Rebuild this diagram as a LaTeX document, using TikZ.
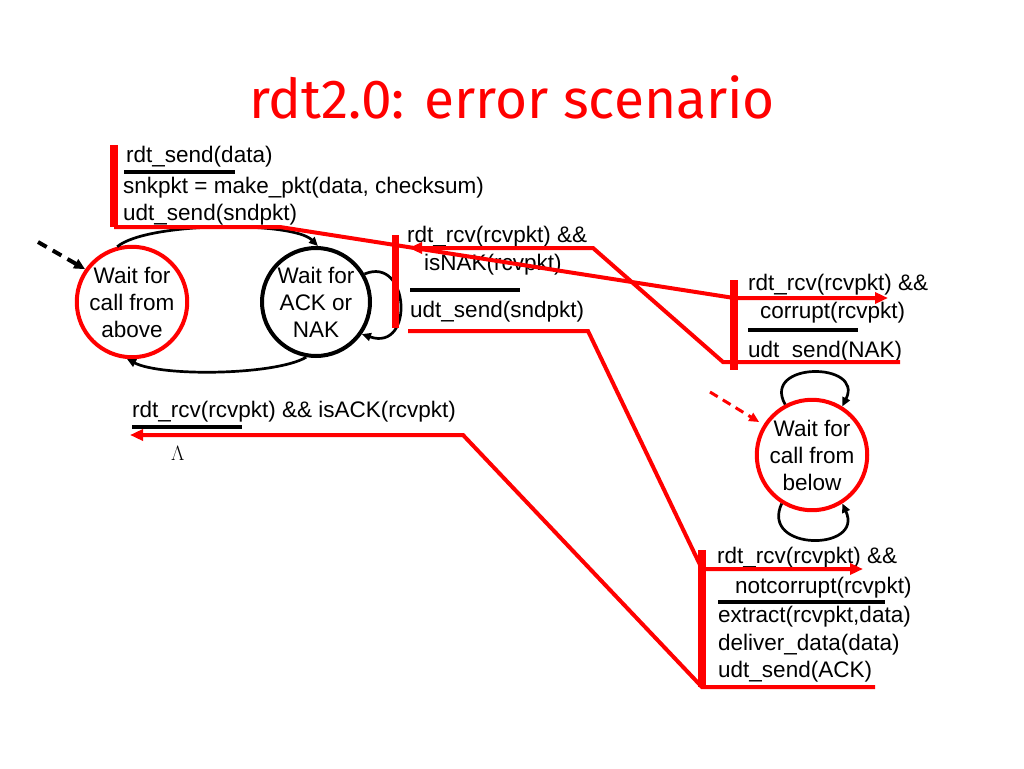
\documentclass[tikz,border=0pt]{standalone}
\usepackage{fontspec}
\setmainfont{Liberation Sans}
\newfontfamily\titlefont{Fira Sans}
\usetikzlibrary{arrows.meta,calc}
\definecolor{pptred}{RGB}{255,0,0}
\tikzset{
  lbl/.style={anchor=base west, inner sep=0pt, font=\fontsize{22.5}{27}\selectfont},
  state/.style={circle, line width=4pt, minimum size=108pt, inner sep=0pt, align=center, font=\fontsize{22.5}{27}\selectfont},
  redstate/.style={state, draw=pptred},
  blackstate/.style={state, draw=black},
  msg/.style={draw=pptred, line width=4pt, line join=miter},
  msgarrow/.style={msg, -{Triangle[length=13pt,width=11pt]}},
  evbar/.style={draw=pptred, line width=8pt},
  guard/.style={draw=black, line width=3.5pt},
  trans/.style={draw=black, line width=2.7pt, -{Triangle[length=9pt,width=8pt]}},
}
\begin{document}
\begin{tikzpicture}[x=1pt,y=-1pt]
\useasboundingbox (0,0) rectangle (1024,768);
\fill[white] (0,0) rectangle (1024,768);

% title
\node[anchor=base, inner sep=0pt, text=pptred, font=\titlefont\fontsize{55}{62}\selectfont] (title) at (512,118) {rdt2.0: error scenario};

% states
\node[redstate] (s1) at (132,302) {Wait for\\call from\\above};
\node[blackstate] (s2) at (316,302) {Wait for\\ACK or\\NAK};
\node[redstate] (s3) at (812,455) {Wait for\\call from\\below};

% sender transitions (black)
\draw[trans] (s1.105) .. controls ($(s1.105)+(30,-25)$) and ($(s2.88)+(-25,-25)$) .. (s2.88);
\draw[trans] (s2.260) .. controls ($(s2.260)+(-30,18)$) and ($(s1.265)+(35,18)$) .. (s1.265);
\draw[trans] (s2.30) .. controls ($(s2.30)+(45,-19)$) and ($(s2.-35)+(53,18)$) .. (s2.-35);
% receiver self loops
\draw[trans] (s3.118) .. controls ($(s3.118)+(-24,-43)$) and ($(s3.58)+(22,-45)$) .. (s3.58);
\draw[trans] (s3.238) .. controls ($(s3.238)+(-22,48)$) and ($(s3.302)+(22,48)$) .. (s3.302);

% initial arrows
\coordinate (init1) at (38,242);
\draw[draw=black, line width=4pt, dash pattern=on 10pt off 7pt, -{Triangle[length=11pt,width=10pt]}] (init1) -- (s1.145);
\coordinate (init3) at (710,392);
\draw[draw=pptred, line width=3pt, dash pattern=on 9pt off 6pt, shorten >=5pt, -{Triangle[length=10pt,width=9pt]}, pptred] (init3) -- (s3.148);

% labels: sender rdt_send
\node[lbl] (l1a) at (126,162) {rdt\_send(data)};
\node[lbl] (l1b) at (123,193) {snkpkt = make\_pkt(data, checksum)};
\node[lbl] (l1c) at (123,220) {udt\_send(sndpkt)};
\draw[guard] (124,172) -- (235,172);

% sender NAK
\node[lbl] (l2a) at (407,242) {rdt\_rcv(rcvpkt) \&\&};
\node[lbl] (l2b) at (424,270) {isNAK(rcvpkt)};
\draw[guard] (410,290) -- (520,290);
\node[lbl] (l2c) at (410,317) {udt\_send(sndpkt)};

% receiver corrupt
\node[lbl] (l3a) at (748,290) {rdt\_rcv(rcvpkt) \&\&};
\node[lbl] (l3b) at (760,318) {corrupt(rcvpkt)};
\draw[guard] (748,330) -- (858,330);
\node[lbl] (l3c) at (748,357) {udt\_send(NAK)};

% receiver notcorrupt
\node[lbl] (l4a) at (717,563) {rdt\_rcv(rcvpkt) \&\&};
\node[lbl] (l4b) at (735,593) {notcorrupt(rcvpkt)};
\draw[guard] (718,602) -- (885,602);
\node[lbl] (l4c) at (718,622) {extract(rcvpkt,data)};
\node[lbl] (l4d) at (718,650) {deliver\_data(data)};
\node[lbl] (l4e) at (718,677) {udt\_send(ACK)};

% sender ACK
\node[lbl] (l5a) at (132,417) {rdt\_rcv(rcvpkt) \&\& isACK(rcvpkt)};
\draw[guard] (132,427) -- (242,427);
\node[anchor=base west, inner sep=0pt, font=\rmfamily\fontsize{21}{24}\selectfont] (lam) at (171,460) {$\Lambda$};

% message paths (red)
\coordinate (p1a) at (114,227); \coordinate (p1b) at (280,227);
\coordinate (p1c) at (734,298); \coordinate (p1d) at (888,298);
\draw[msgarrow] (p1a) -- (p1b) -- (p1c) -- (p1d);

\coordinate (p2a) at (900,362); \coordinate (p2b) at (723,362);
\coordinate (p2c) at (593,248); \coordinate (p2d) at (409,248);
\draw[msgarrow] (p2a) -- (p2b) -- (p2c) -- (p2d);

\coordinate (p3a) at (408,331); \coordinate (p3b) at (588,331);
\coordinate (p3c) at (702,569); \coordinate (p3d) at (863,569);
\draw[msgarrow] (p3a) -- (p3b) -- (p3c) -- (p3d);

\coordinate (p4a) at (875,687); \coordinate (p4b) at (702,687);
\coordinate (p4c) at (463,435); \coordinate (p4d) at (130,435);
\draw[msgarrow] (p4a) -- (p4b) -- (p4c) -- (p4d);

% event bars
\draw[evbar] (114,145) -- (114,227);
\draw[evbar, line width=7pt] (395,235) -- (395,328);
\draw[evbar] (734,280) -- (734,370);
\draw[evbar] (702,550) -- (702,687);
\end{tikzpicture}
\end{document}
